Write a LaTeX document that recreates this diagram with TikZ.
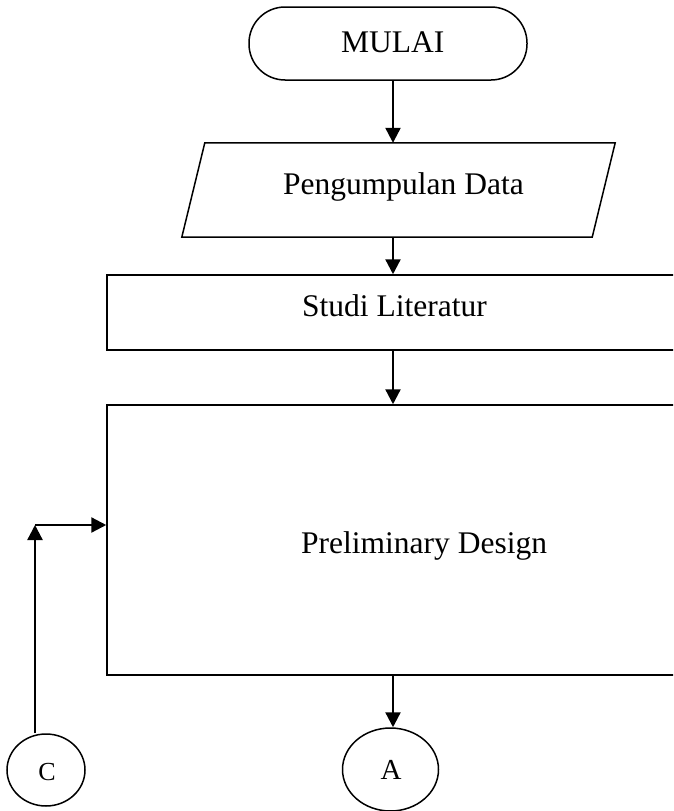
\documentclass[tikz,border=0pt]{standalone}
\usepackage{fontspec}
\setmainfont{Liberation Serif}
\usetikzlibrary{shapes.geometric,arrows.meta}
\begin{document}
\begin{tikzpicture}[x=1pt,y=-1pt,
  shapebox/.style={draw, line width=1.5pt, inner sep=0pt},
  lbl/.style={inner sep=0pt, font=\fontsize{31.5}{36}\selectfont},
  arr/.style={line width=2.3pt, -{Triangle[width=15pt,length=15pt]}}]
\useasboundingbox (0,0) rectangle (673,811);
\clip (0,0) rectangle (673,811);
% shapes
\node[shapebox, rounded corners=36pt, minimum width=278pt, minimum height=73pt] (mulai) at (388,43.5) {};
\node[inner sep=0pt, minimum width=410pt, minimum height=94pt] (data) at (398.5,190) {};
\draw[line width=1.5pt, line join=miter]
  ([xshift=-11.5pt]data.south west) -- ([xshift=11.5pt]data.north west)
  -- ([xshift=11.5pt]data.north east) -- ([xshift=-11.5pt]data.south east) -- cycle;
\node[shapebox, minimum width=653pt, minimum height=75pt] (studi) at (433.5,312.5) {};
\node[shapebox, minimum width=653pt, minimum height=270pt] (prelim) at (433.5,540) {};
\node[shapebox, ellipse, minimum width=96pt, minimum height=83pt] (A) at (390.5,769.5) {};
\node[shapebox, ellipse, minimum width=78pt, minimum height=72pt] (C) at (46,770) {};
% texts
\node[lbl, anchor=base west] (tmulai) at (341,52) {MULAI};
\node[lbl, anchor=base west] (tdata) at (283,194) {Pengumpulan Data};
\node[lbl, anchor=base west] (tstudi) at (302,316) {Studi Literatur};
\node[lbl, anchor=base west] (tprelim) at (301,553) {Preliminary Design};
\node[lbl, anchor=base, font=\fontsize{29}{32}\selectfont] (tA) at (391,779) {A};
\node[lbl, anchor=base, font=\fontsize{26}{30}\selectfont] (tC) at (47,780) {C};
% connectors
\coordinate (ax) at (393,0);
\coordinate (corner) at (35,525);
\draw[arr] (ax |- mulai.south) -- (ax |- data.north);
\draw[arr] (ax |- data.south) -- (ax |- studi.north);
\draw[arr] (ax |- studi.south) -- (ax |- prelim.north);
\draw[arr] (ax |- prelim.south) -- (ax |- A.north);
\draw[arr] (corner |- C.north) -- (corner);
\draw[arr] (corner) -- (corner -| prelim.west);
\end{tikzpicture}
\end{document}
